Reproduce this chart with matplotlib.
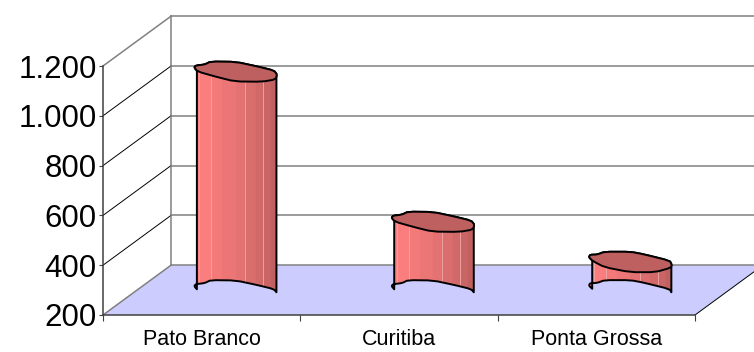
import matplotlib
matplotlib.use("Agg")
import matplotlib.pyplot as plt
from matplotlib.patches import Polygon, Rectangle
import numpy as np

plt.rcParams['font.family'] = ['Liberation Sans', 'DejaVu Sans']

# Chart data
cities = ["Pato Branco", "Curitiba", "Ponta Grossa"]
values = [1078, 475, 314]
y_ticks = [200, 400, 600, 800, 1000, 1200]
y_tick_labels = ["200", "400", "600", "800", "1.000", "1.200"]

# Cross-section of a column, unit half-width / half-depth, from the right edge
# round the front to the left edge, then back over the rear.
section_a = np.array([(1.0, -0.3), (0.92, 0.1), (0.53, 0.5), (0.0, 0.97), (-0.6, 1.0),
                      (-0.75, 0.7), (-0.96, 0.6), (-1.0, 0.4),
                      (-0.92, 0.0), (-0.5, -0.5), (-0.02, -1.0), (0.63, -1.03), (0.96, -0.8)])
section_b = np.array([(1.0, -0.3), (0.95, 0.1), (0.32, 0.75), (0.0, 1.0), (-0.62, 1.0),
                      (-0.8, 0.72), (-0.97, 0.7), (-1.0, 0.45),
                      (-0.9, 0.05), (-0.62, -0.55), (0.0, -1.05), (0.6, -1.05), (0.98, -0.6)])
sections = [section_a, section_a, section_b]
n_front = 8

# Facet shading across a column
facet_edges = [0, .06, .208, .34, .5, .612, .74, .828, .928, 1]
facet_colors = ["#FF8080", "#FA7E7E", "#F47A7A", "#EC7676", "#E47272",
                "#DA6E6E", "#D26969", "#CA6565", "#C06060"]
facet_glints = [.06, .208, .612, .828]

fig = plt.figure(figsize=(7.54, 3.52), dpi=100)
ax = fig.add_axes([103 / 754, 37 / 352, 592 / 754, 249 / 352])
ax.set_xlim(0, 3)
ax.set_ylim(200, 1200)
ax.patch.set_alpha(0)

depth_x = 68 / (592 / 3)
depth_y = 200.0
half_w = 0.21
half_d = 40.0
grey = "#808080"

# Floor
ax.add_patch(Polygon([(0, 200), (3, 200), (3 + depth_x, 200 + depth_y), (depth_x, 200 + depth_y)],
                     closed=True, fc="#CCCCFF", ec="none", clip_on=False, zorder=1))

# Back wall and side wall lines
for t in y_ticks:
    ax.plot([depth_x, 3 + depth_x], [t + depth_y] * 2, color=grey, lw=1.1, clip_on=False, zorder=2)
    edge = grey if t in (200, 1200) else "black"
    ax.plot([0, depth_x], [t, t + depth_y], color=edge, lw=1.1 if t in (200, 1200) else 0.7,
            clip_on=False, zorder=2)
ax.plot([depth_x, depth_x], [200 + depth_y, 1200 + depth_y], color=grey, lw=1.1, clip_on=False, zorder=2)
ax.plot([3, 3 + depth_x], [200, 200 + depth_y], color="black", lw=0.7, clip_on=False, zorder=2)


def rounded(points, passes=1):
    # Corner cutting keeps the outline soft without changing its extent much
    pts = points
    for _ in range(passes):
        nxt = np.roll(pts, -1, axis=0)
        pts = np.column_stack([0.8 * pts + 0.2 * nxt, 0.2 * pts + 0.8 * nxt]).reshape(-1, 2)
    return pts


for i, (val, sec) in enumerate(zip(values, sections)):
    cx = i + 0.5 + depth_x / 2
    base = 200 + depth_y / 2
    top = val + depth_y / 2
    scaled = sec * [half_w, half_d]
    smooth = rounded(scaled)
    front = smooth[: 2 * n_front]
    top_ring = smooth + [cx, top]
    body = np.vstack([front + [cx, top], (front + [cx, base])[::-1]])

    body_patch = Polygon(body, closed=True, fc="none", ec="none", clip_on=False, zorder=3)
    ax.add_patch(body_patch)
    x0 = cx - half_w
    width = 2 * half_w
    for c, e0, e1 in zip(facet_colors, facet_edges[:-1], facet_edges[1:]):
        strip = Rectangle((x0 + e0 * width, base - 2 * half_d), (e1 - e0) * width,
                          top - base + 4 * half_d, fc=c, ec=c, lw=0.3, zorder=3, clip_on=True)
        ax.add_patch(strip)
        strip.set_clip_path(body_patch)
    for g in facet_glints:
        glint, = ax.plot([x0 + g * width] * 2, [base - 2 * half_d, top + 2 * half_d],
                         color="#F0A8A8", lw=0.6, zorder=3.5)
        glint.set_clip_path(body_patch)
    ax.add_patch(Polygon(body, closed=True, fc="none", ec="black", lw=1.4, joinstyle="round",
                         clip_on=False, zorder=4))
    ax.add_patch(Polygon(top_ring, closed=True, fc="#BF6060", ec="black", lw=1.4, joinstyle="round",
                         clip_on=False, zorder=5))

# Axes
for side in ("top", "right"):
    ax.spines[side].set_visible(False)
for side in ("left", "bottom"):
    ax.spines[side].set_color("#404040")
    ax.spines[side].set_linewidth(1.1)
    ax.spines[side].set_zorder(2.5)
ax.set_yticks(y_ticks, y_tick_labels, fontsize=22.5)
ax.tick_params(axis="y", length=3, width=0.8, color="#404040", pad=1.5)
ax.set_xticks([0, 1, 2, 3], [""] * 4)
ax.set_xticks([0.5, 1.5, 2.5], cities, minor=True, fontsize=15.5)
ax.tick_params(axis="x", which="major", length=4, width=0.8, color="#404040")
ax.tick_params(axis="x", which="minor", length=0, pad=10)

fig.savefig("out.png", dpi=100)
